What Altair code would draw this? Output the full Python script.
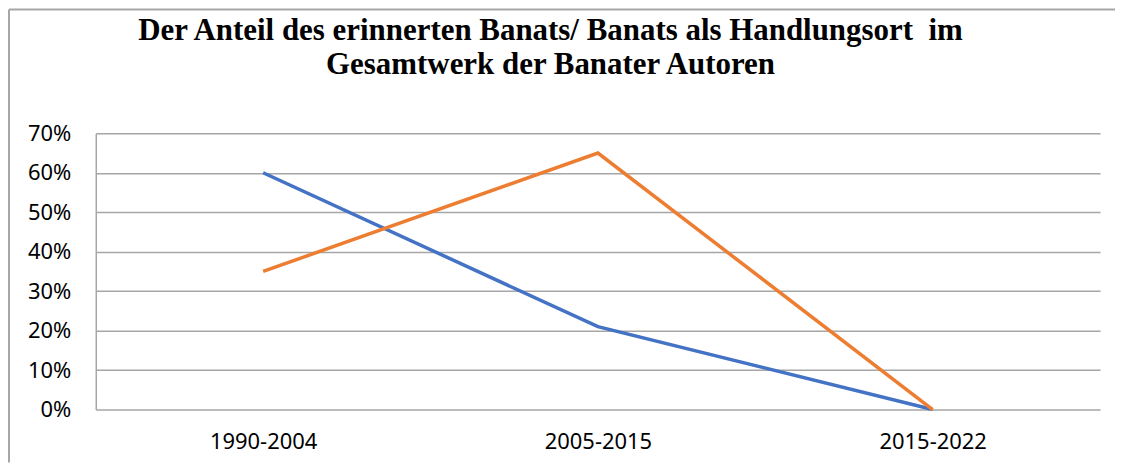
import altair as alt
import pandas as pd

categories = ["1990-2004", "2005-2015", "2015-2022"]
series_names = ["Erinnertes Banat", "Banat als Handlungsort"]
values_blue = [0.60, 0.21, 0.00]
values_orange = [0.35, 0.65, 0.00]
y_ticks = [0, 0.1, 0.2, 0.3, 0.4, 0.5, 0.6, 0.7]
title_lines = [
    "Der Anteil des erinnerten Banats/ Banats als Handlungsort\u00a0 im",
    "Gesamtwerk der Banater Autoren",
]
colors = ["#4472C4", "#ED7D31"]

rows = []
for name, vals in zip(series_names, [values_blue, values_orange]):
    for c, v in zip(categories, vals):
        rows.append({"Zeitraum": c, "Serie": name, "Anteil": v})
df = pd.DataFrame(rows)

W, H = 1007, 277

lines = alt.Chart(df).mark_line(strokeWidth=3.5).encode(
    x=alt.X("Zeitraum:N", sort=categories, title=None,
            scale=alt.Scale(padding=0.5),
            axis=alt.Axis(labelAngle=0, ticks=False, domain=False, grid=False,
                          labelPadding=22, labelFontSize=22, labelFont="Noto Sans",
                          labelColor="#000000")),
    y=alt.Y("Anteil:Q", title=None,
            scale=alt.Scale(domain=[0, 0.7], nice=False),
            axis=alt.Axis(values=y_ticks, format=".0%", ticks=False,
                          domain=True, domainColor="#a6a6a6", domainWidth=1.5,
                          grid=True, gridColor="#a6a6a6", gridWidth=1.5,
                          labelPadding=25, labelFontSize=22, labelFont="Noto Sans",
                          labelColor="#000000")),
    color=alt.Color("Serie:N", sort=series_names,
                    scale=alt.Scale(domain=series_names, range=colors), legend=None),
)

one = pd.DataFrame({"a": [0]})
border_top = alt.Chart(one).mark_rule(color="#a6a6a6", strokeWidth=2).encode(
    x=alt.value(-87), x2=alt.value(1022), y=alt.value(-124)
)
border_left = alt.Chart(one).mark_rule(color="#a6a6a6", strokeWidth=2).encode(
    x=alt.value(-87), y=alt.value(-124), y2=alt.value(330)
)
title_text = alt.Chart(pd.DataFrame({"t": title_lines, "i": [0, 1]})).mark_text(
    font="Liberation Serif", fontSize=31, fontWeight="bold", color="#000000",
    align="center", baseline="alphabetic"
).encode(
    text="t:N",
    x=alt.value(456),
    y=alt.Y("i:Q", axis=None, scale=alt.Scale(domain=[0, 1], range=[-94, -59])),
)

chart = alt.layer(lines, title_text, border_top, border_left).resolve_scale(
    y="independent"
).properties(
    width=W, height=H,
    padding={"left": 0, "top": 0, "right": 0, "bottom": 0},
).configure_view(stroke=None).configure_axis(labelColor="#000000")

chart.save("out.html", embed_options={"renderer": "svg", "actions": False})
